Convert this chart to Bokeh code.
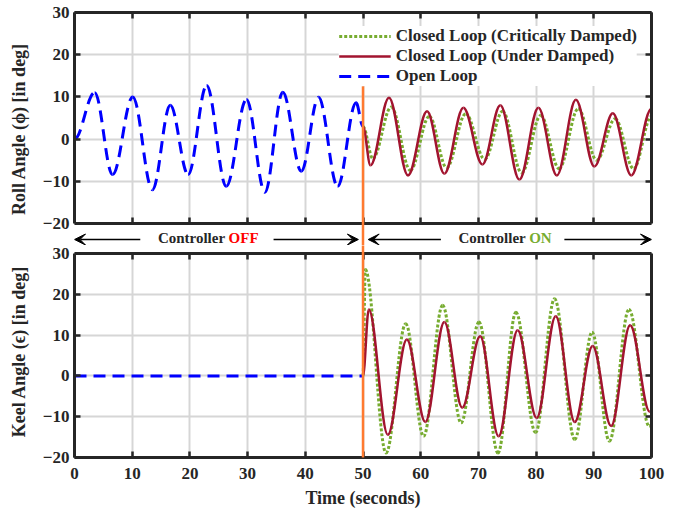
import numpy as np
from bokeh.plotting import figure
from bokeh.layouts import column
from bokeh.models import (Range1d, LinearAxis, FixedTicker, Arrow, VeeHead,
                          Label, ColumnDataSource, CustomJSTickFormatter)
from bokeh.embed import file_html
from bokeh.resources import INLINE

# ---------------- data ----------------
x_ticks = [0, 10, 20, 30, 40, 50, 60, 70, 80, 90, 100]
y_ticks = [-20, -10, 0, 10, 20, 30]
switch_time = 50

legend_cd = "Closed Loop (Critically Damped)"
legend_ud = "Closed Loop (Under Damped)"
legend_ol = "Open Loop"

# Roll angle: peaks / troughs (time s, deg)
roll_open_t = [0, 3.5, 6.6, 10.1, 13.5, 16.6, 19.7, 22.9, 26.3, 29.8, 33.0, 36.1, 39.3, 42.3, 45.6, 48.8, 50.0]
roll_open_v = [0, 11.0, -8.4, 10.0, -12.0, 8.0, -8.4, 12.7, -11.2, 9.4, -12.6, 11.1, -7.6, 9.9, -11.2, 8.6, 3.0]

roll_ud_t = [50.0, 51.3, 54.5, 57.8, 61.1, 64.1, 67.4, 70.7, 73.8, 77.1, 80.4, 83.6, 86.9, 90.1, 93.3, 96.5, 100.0]
roll_ud_v = [3.0, -6.2, 9.8, -8.6, 6.6, -8.2, 7.4, -6.0, 8.0, -9.6, 7.4, -8.6, 9.3, -6.5, 6.1, -8.6, 7.2]

roll_cd_t = [50.0, 51.7, 54.9, 58.2, 61.5, 64.5, 67.8, 71.1, 74.2, 77.5, 80.8, 84.0, 87.3, 90.5, 93.7, 96.9, 100.0]
roll_cd_v = [3.0, -4.6, 7.6, -7.4, 5.4, -6.8, 6.0, -4.8, 6.6, -8.0, 5.6, -7.0, 7.2, -5.0, 4.8, -7.0, 5.4]

# Keel angle
keel_open_t = [0, 50]
keel_open_v = [0, 0]

keel_ud_t = [50.0, 51.0, 54.3, 57.6, 60.8, 64.1, 67.2, 70.3, 73.5, 76.8, 80.1, 83.4, 86.7, 89.8, 93.0, 96.3, 99.7, 100.0]
keel_ud_v = [0.0, 16.3, -14.4, 8.9, -11.3, 13.2, -7.8, 9.7, -14.8, 11.2, -10.3, 14.6, -11.3, 7.3, -12.3, 12.4, -8.8, -8.6]

keel_cd_t = [50.0, 50.4, 54.0, 57.4, 60.5, 63.8, 67.0, 70.1, 73.4, 76.5, 79.9, 83.2, 86.7, 89.7, 92.7, 96.1, 99.6, 100.0]
keel_cd_v = [0.0, 26.1, -18.9, 12.8, -14.8, 17.3, -11.5, 13.2, -18.9, 15.6, -13.9, 18.9, -15.6, 10.7, -16.0, 16.3, -12.3, -12.0]

# ---------------- style ----------------
C_GREEN = "#77AC30"
C_RED = "#A2142F"
C_BLUE = "#0000FF"
C_ORANGE = "#FF7A30"
C_AX = "#262626"
FONT = "Liberation Serif"

FRAME_W = 577
TOP_H = 211     # height of the roll panel box
BOT_H = 204     # height of the keel panel box
GAP_TOP = 22    # strip below the roll box (inside top frame)
GAP_BOT = 8     # strip above the keel box (inside bottom frame)
Y_LO, Y_HI = y_ticks[0], y_ticks[-1]
X_LO, X_HI = x_ticks[0], x_ticks[-1]


def bez_source(t, v, k=0.36):
    t = np.asarray(t, float)
    v = np.asarray(v, float)
    x0, x1 = t[:-1], t[1:]
    y0, y1 = v[:-1], v[1:]
    dt = x1 - x0
    return ColumnDataSource(dict(x0=x0, y0=y0, x1=x1, y1=y1,
                                 cx0=x0 + k * dt, cy0=y0,
                                 cx1=x1 - k * dt, cy1=y1))


def curve(p, t, v, **kw):
    return p.bezier(x0="x0", y0="y0", x1="x1", y1="y1", cx0="cx0", cy0="cy0",
                    cx1="cx1", cy1="cy1", source=bez_source(t, v), **kw)


def style_axis(ax, labels=True):
    ax.axis_line_color = C_AX
    ax.axis_line_width = 3
    ax.major_tick_in = 6
    ax.major_tick_out = 0
    ax.major_tick_line_color = C_AX
    ax.major_tick_line_width = 2.5
    ax.minor_tick_line_color = None
    ax.major_label_text_font = FONT
    ax.major_label_text_font_style = "bold"
    ax.major_label_text_color = C_AX
    ax.major_label_text_font_size = "17px"
    if labels:
        ax.major_label_standoff = 5
    else:
        ax.formatter = CustomJSTickFormatter(code="return ''")
        ax.major_label_standoff = 0
    ax.axis_label_text_font = FONT
    ax.axis_label_text_font_style = "bold"
    ax.axis_label_text_font_size = "18px"
    ax.axis_label_text_color = C_AX


def make_fig(frame_h, y_range, b_top, b_bot, ylabel):
    p = figure(frame_width=FRAME_W, frame_height=frame_h,
               x_range=Range1d(X_LO, X_HI), y_range=y_range,
               output_backend="svg", toolbar_location=None,
               min_border_left=74, min_border_right=20,
               min_border_top=b_top, min_border_bottom=b_bot,
               background_fill_color="white", border_fill_color="white")
    p.outline_line_color = None
    p.add_layout(LinearAxis(), "right")
    p.add_layout(LinearAxis(), "above")
    for ax in p.xaxis:
        ax.ticker = FixedTicker(ticks=x_ticks)
    for ax in p.yaxis:
        ax.ticker = FixedTicker(ticks=y_ticks)
        ax.bounds = (Y_LO, Y_HI)
    style_axis(p.left[0], labels=True)
    style_axis(p.right[0], labels=False)
    style_axis(p.above[0], labels=False)
    p.left[0].axis_label = ylabel
    p.left[0].axis_label_standoff = 11
    p.xgrid.ticker = FixedTicker(ticks=x_ticks)
    p.ygrid.ticker = FixedTicker(ticks=y_ticks)
    p.xgrid.cross_bounds = (Y_LO, Y_HI)
    p.grid.grid_line_color = "#D6D6D6"
    p.grid.grid_line_width = 2
    return p


# ---------------- top: roll angle ----------------
ppu1 = TOP_H / (Y_HI - Y_LO)
p1 = make_fig(TOP_H + GAP_TOP, Range1d(Y_LO - GAP_TOP / ppu1, Y_HI), 12, 0,
              "Roll Angle (\u03d5) [in deg]")
style_axis(p1.below[0], labels=False)
p1.below[0].fixed_location = Y_LO

curve(p1, roll_cd_t, roll_cd_v, line_color=C_GREEN, line_width=3,
      line_dash="3 2", legend_label=legend_cd)
curve(p1, roll_ud_t, roll_ud_v, line_color=C_RED, line_width=2.5,
      legend_label=legend_ud)
curve(p1, roll_open_t, roll_open_v, line_color=C_BLUE, line_width=3,
      line_dash="12 7", legend_label=legend_ol)

lg = p1.legend[0]
lg.location = "top_right"
lg.border_line_color = None
lg.background_fill_color = "white"
lg.background_fill_alpha = 1.0
lg.label_text_font = FONT
lg.label_text_font_style = "bold"
lg.label_text_font_size = "17px"
lg.label_text_color = C_AX
lg.glyph_width = 52
lg.glyph_height = 18
lg.label_height = 18
lg.spacing = 0
lg.padding = 12
lg.margin = 14
lg.label_standoff = 5

p1.segment(x0=[switch_time], y0=[12.5], x1=[switch_time], y1=[Y_LO - GAP_TOP / ppu1],
           line_color=C_ORANGE, line_width=2.5, level="overlay")

y_arrow = Y_LO - 16 / ppu1
y_text = Y_LO - 14.5 / ppu1
head = dict(size=11, fill_color="black", line_color="black")
for xs, xe in [(11.4, X_LO), (34.5, switch_time - 0.8),
               (63.5, switch_time + 0.9), (84.9, X_HI)]:
    p1.add_layout(Arrow(x_start=xs, y_start=y_arrow, x_end=xe, y_end=y_arrow,
                        end=VeeHead(**head), line_color="black", line_width=1.5))

for xb, word, col in [(26.4, "OFF", "#FF0000"), (78.5, "ON", C_GREEN)]:
    p1.add_layout(Label(x=xb - 0.3, y=y_text, text="Controller", text_align="right",
                        text_baseline="middle", text_font=FONT,
                        text_font_style="bold", text_font_size="15px",
                        text_color=C_AX))
    p1.add_layout(Label(x=xb + 0.3, y=y_text, text=word, text_align="left",
                        text_baseline="middle", text_font=FONT,
                        text_font_style="bold", text_font_size="15px",
                        text_color=col))

# ---------------- bottom: keel angle ----------------
ppu2 = BOT_H / (Y_HI - Y_LO)
p2 = make_fig(BOT_H + GAP_BOT, Range1d(Y_LO, Y_HI + GAP_BOT / ppu2), 0, 50,
              "Keel Angle (\u03f5) [in deg]")
style_axis(p2.below[0], labels=True)
p2.above[0].fixed_location = Y_HI
p2.below[0].axis_label = "Time (seconds)"
p2.below[0].axis_label_standoff = 6
p2.below[0].major_label_standoff = 10

p2.line(keel_open_t, keel_open_v, line_color=C_BLUE, line_width=3, line_dash="12 7")
curve(p2, keel_cd_t, keel_cd_v, line_color=C_GREEN, line_width=3, line_dash="3 2")
curve(p2, keel_ud_t, keel_ud_v, line_color=C_RED, line_width=2.5)

p2.segment(x0=[switch_time], y0=[Y_HI + GAP_BOT / ppu2], x1=[switch_time], y1=[Y_LO],
           line_color=C_ORANGE, line_width=2.5, level="overlay")

layout = column(p1, p2, spacing=0)
open("out.html", "w").write(file_html(layout, INLINE))
